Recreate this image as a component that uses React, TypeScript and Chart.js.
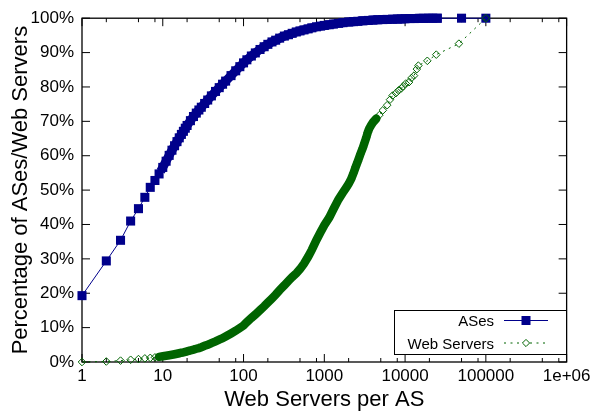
import React, { useEffect, useRef } from 'react';
import { Chart, registerables } from 'chart.js';

Chart.register(...registerables);

// ---------- data ----------
const asesX = [1, 2, 3, 4, 5, 6, 7, 8, 9, 10, 11, 12, 13, 14, 15, 16, 17, 18, 19, 20,
  22, 24, 26, 28, 30, 33, 36, 40, 45, 50, 55, 60, 70, 80, 90, 100,
  110, 125, 140, 160, 180, 200, 225, 250, 280, 320, 360, 400,
  450, 500, 560, 630, 700, 800, 900, 1000, 1150, 1300, 1500, 1700, 2000,
  2300, 2600, 3000, 3500, 4000, 4600, 5300, 6000, 7000, 8000, 9000, 10000,
  11500, 13000, 15000, 17000, 19500, 22000, 25000, 50000, 100000];
const asesY = [19.3, 29.4, 35.4, 41.0, 44.6, 47.9, 50.8, 52.8, 54.7, 56.6, 58.4, 60.1, 61.6, 62.9, 64.1, 65.2, 66.2, 67.1, 68.0, 68.8,
  70.2, 71.4, 72.4, 73.3, 74.1, 75.2, 76.2, 77.4, 78.7, 79.8, 80.8, 81.7, 83.3, 84.7, 85.9, 87.0,
  87.9, 89.0, 89.9, 90.9, 91.7, 92.4, 93.1, 93.6, 94.2, 94.8, 95.2, 95.6,
  96.0, 96.3, 96.6, 96.9, 97.2, 97.5, 97.7, 97.9, 98.1, 98.3, 98.5, 98.7, 98.9,
  99.0, 99.1, 99.25, 99.35, 99.45, 99.55, 99.6, 99.65, 99.7, 99.75, 99.8, 99.85,
  99.9, 99.9, 99.95, 99.95, 100, 100, 100, 100, 100];

const webX = [1, 2, 3, 4, 5, 6, 7, 8, 9, 10, 11, 12, 13, 14, 15, 16, 17, 18, 19, 20,
  22, 24, 26, 28, 30, 33, 36, 40, 45, 50, 55, 60, 70, 80, 90, 100,
  110, 125, 140, 160, 180, 200, 225, 250, 280, 320, 360, 400,
  450, 500, 560, 630, 700, 800, 900, 1000, 1150, 1300, 1500, 1700, 1850, 2000,
  2150, 2300, 2450, 2600, 2800, 3000, 3150, 3300, 3450, 3600, 3800, 4000, 4400, 4800,
  5300, 6000, 6500, 7000, 7700, 8300, 9000, 9500, 10200, 11200, 12000, 12900,
  14000, 14600, 18850, 24330, 46400, 100000];
const webY = [0, 0.15, 0.4, 0.65, 0.85, 1.05, 1.2, 1.35, 1.5, 1.65, 1.8, 1.95, 2.1, 2.25, 2.4, 2.55, 2.7, 2.8, 2.95, 3.1,
  3.35, 3.6, 3.85, 4.05, 4.3, 4.7, 5.0, 5.5, 6.0, 6.5, 6.9, 7.4, 8.3, 9.1, 9.9, 10.6,
  11.6, 12.8, 13.8, 15.1, 16.2, 17.3, 18.5, 19.6, 20.9, 22.3, 23.6, 24.7,
  25.8, 27.0, 28.6, 30.6, 32.6, 35.5, 37.8, 39.8, 42.0, 44.5, 47.3, 49.3, 50.6, 51.8,
  53.2, 55.0, 56.8, 58.4, 60.5, 62.3, 63.8, 65.2, 66.8, 67.9, 68.9, 69.7, 70.8, 71.8,
  73.2, 74.7, 76.3, 77.5, 78.2, 79.0, 79.6, 80.2, 81.0, 81.4, 82.6, 83.3,
  85.2, 86.2, 87.6, 89.4, 92.6, 100];

const seriesNames = ['ASes', 'Web Servers'];
const xTickValues = [1, 10, 100, 1000, 10000, 100000, 1000000];
const xTickLabels = ['1', '10', '100', '1000', '10000', '100000', '1e+06'];
const xMinorMultipliers = [2, 5, 8];
const yTickValues = [0, 10, 20, 30, 40, 50, 60, 70, 80, 90, 100];
const yTickLabels = ['0%', '10%', '20%', '30%', '40%', '50%', '60%', '70%', '80%', '90%', '100%'];
const xTitle = 'Web Servers per AS';
const yTitle = 'Percentage of ASes/Web Servers';

// dense ranges where the original markers merge into a solid band
const asesBand = [10, 25000];
const webBand = [9, 4400];

const BLUE = '#00008b';
const GREEN = '#006400';
const FONT = '"Liberation Sans", Arial, Helvetica, sans-serif';

function inBand(xs: number[], ctx: any, band: number[]) {
  const a = xs[ctx.p0DataIndex];
  const b = xs[ctx.p1DataIndex];
  return a >= band[0] && b <= band[1];
}

const framePlugin = {
  id: 'frame',
  beforeDatasetsDraw(chart: any) {
    const { ctx, chartArea: a, scales } = chart;
    const x = scales.x;
    const y = scales.y;
    ctx.save();
    ctx.strokeStyle = '#000';
    ctx.lineWidth = 1.3;
    ctx.strokeRect(a.left, a.top, a.right - a.left, a.bottom - a.top);
    ctx.beginPath();
    yTickValues.forEach((v) => {
      const py = y.getPixelForValue(v);
      ctx.moveTo(a.left, py); ctx.lineTo(a.left + 8, py);
      ctx.moveTo(a.right, py); ctx.lineTo(a.right - 8, py);
    });
    xTickValues.forEach((v, i) => {
      const px = x.getPixelForValue(v);
      ctx.moveTo(px, a.bottom); ctx.lineTo(px, a.bottom - 8);
      ctx.moveTo(px, a.top); ctx.lineTo(px, a.top + 8);
      if (i < xTickValues.length - 1) {
        xMinorMultipliers.forEach((m) => {
          const mx = x.getPixelForValue(v * m);
          ctx.moveTo(mx, a.bottom); ctx.lineTo(mx, a.bottom - 4);
          ctx.moveTo(mx, a.top); ctx.lineTo(mx, a.top + 4);
        });
      }
    });
    ctx.lineWidth = 1;
    ctx.stroke();
    ctx.restore();
  },
  afterDraw(chart: any) {
    const { ctx, chartArea: a } = chart;
    ctx.save();
    ctx.fillStyle = '#000';
    // axis titles
    ctx.font = `22px ${FONT}`;
    ctx.textAlign = 'center';
    ctx.textBaseline = 'alphabetic';
    ctx.fillText(xTitle, (a.left + a.right) / 2, 406);
    ctx.save();
    ctx.translate(27, (a.top + a.bottom) / 2);
    ctx.rotate(-Math.PI / 2);
    ctx.fillText(yTitle, 0, 0);
    ctx.restore();

    // legend
    const bx = 394, by = 310, bw = 172, bh = 44;
    ctx.fillStyle = '#fff';
    ctx.fillRect(bx, by, bw, bh);
    ctx.strokeStyle = '#000';
    ctx.lineWidth = 1;
    ctx.strokeRect(bx + 0.5, by + 0.5, bw, bh);
    ctx.font = `15px ${FONT}`;
    ctx.textAlign = 'right';
    ctx.fillStyle = '#000';
    const rows = [320.5, 343];
    ctx.fillText(seriesNames[0], 494, rows[0] + 5.5);
    ctx.fillText(seriesNames[1], 494, rows[1] + 6);
    // ASes sample
    ctx.strokeStyle = BLUE;
    ctx.lineWidth = 1;
    ctx.beginPath();
    ctx.moveTo(504, rows[0]); ctx.lineTo(548, rows[0]);
    ctx.stroke();
    ctx.fillStyle = BLUE;
    ctx.fillRect(526 - 4.5, rows[0] - 4.5, 9, 9);
    // Web servers sample
    ctx.strokeStyle = GREEN;
    ctx.setLineDash([2, 4.5]);
    ctx.beginPath();
    ctx.moveTo(504, rows[1]); ctx.lineTo(548, rows[1]);
    ctx.stroke();
    ctx.setLineDash([]);
    ctx.fillStyle = '#fff';
    const r = 3.6;
    ctx.beginPath();
    ctx.moveTo(526, rows[1] - r); ctx.lineTo(526 + r, rows[1]);
    ctx.lineTo(526, rows[1] + r); ctx.lineTo(526 - r, rows[1]);
    ctx.closePath();
    ctx.fill();
    ctx.stroke();
    ctx.restore();
  },
};

export default function App() {
  const canvasRef = useRef<HTMLCanvasElement | null>(null);

  useEffect(() => {
    const canvas = canvasRef.current;
    if (!canvas) return;
    const chart = new Chart(canvas, {
      type: 'line',
      data: {
        datasets: [
          {
            label: seriesNames[0],
            data: asesX.map((x, i) => ({ x, y: asesY[i] })),
            borderColor: BLUE,
            backgroundColor: BLUE,
            borderWidth: 1,
            pointStyle: 'rect',
            pointRadius: 6.4,
            pointBorderWidth: 0,
            pointBackgroundColor: BLUE,
            fill: false,
            tension: 0,
            clip: false as any,
            order: 2,
            segment: {
              borderWidth: (ctx: any) => (inBand(asesX, ctx, asesBand) ? 9 : 1),
              borderCapStyle: (ctx: any) => (inBand(asesX, ctx, asesBand) ? 'square' : 'butt'),
            },
          } as any,
          {
            label: seriesNames[1],
            data: webX.map((x, i) => ({ x, y: webY[i] })),
            borderColor: GREEN,
            backgroundColor: 'rgba(0,0,0,0)',
            borderWidth: 1,
            borderDash: [2, 4.5],
            pointStyle: 'rectRot',
            pointRadius: 3.8,
            pointBorderWidth: 1,
            pointBorderColor: GREEN,
            pointBackgroundColor: 'rgba(0,0,0,0)',
            fill: false,
            tension: 0,
            clip: false as any,
            order: 1,
            segment: {
              borderWidth: (ctx: any) => (inBand(webX, ctx, webBand) ? 8.5 : 1),
              borderDash: (ctx: any) => (inBand(webX, ctx, webBand) ? [] : [2, 4.5]),
              borderCapStyle: (ctx: any) => (inBand(webX, ctx, webBand) ? 'round' : 'butt'),
            },
          } as any,
        ],
      },
      options: {
        responsive: false,
        maintainAspectRatio: false,
        animation: false,
        devicePixelRatio: 1,
        events: [],
        layout: { padding: { left: 0, right: 28, top: 15, bottom: 0 } },
        plugins: {
          legend: { display: false },
          tooltip: { enabled: false },
          title: { display: false },
        },
        scales: {
          x: {
            type: 'logarithmic',
            min: 1,
            max: 1000000,
            grid: { display: false, drawTicks: false },
            border: { display: false },
            afterBuildTicks: (scale: any) => {
              scale.ticks = xTickValues.map((v) => ({ value: v }));
            },
            afterFit: (scale: any) => {
              scale.height = 50;
            },
            ticks: {
              autoSkip: false,
              maxRotation: 0,
              minRotation: 0,
              padding: 4.5,
              color: '#000',
              font: { family: FONT, size: 17 },
              callback: (_v: any, i: number) => xTickLabels[i] ?? '',
            },
          },
          y: {
            type: 'linear',
            min: 0,
            max: 100,
            grid: { display: false, drawTicks: false },
            border: { display: false },
            afterBuildTicks: (scale: any) => {
              scale.ticks = yTickValues.map((v) => ({ value: v }));
            },
            afterFit: (scale: any) => {
              scale.width = 82;
            },
            ticks: {
              padding: 8,
              color: '#000',
              font: { family: FONT, size: 17 },
              callback: (_v: any, i: number) => yTickLabels[i] ?? '',
            },
          },
        },
      } as any,
      plugins: [framePlugin],
    });
    return () => chart.destroy();
  }, []);

  return (
    <div style={{ position: 'absolute', left: 0, top: 0, width: 595, height: 412, background: '#fff' }}>
      <canvas ref={canvasRef} width={595} height={412} style={{ display: 'block', width: 595, height: 412 }} />
    </div>
  );
}
